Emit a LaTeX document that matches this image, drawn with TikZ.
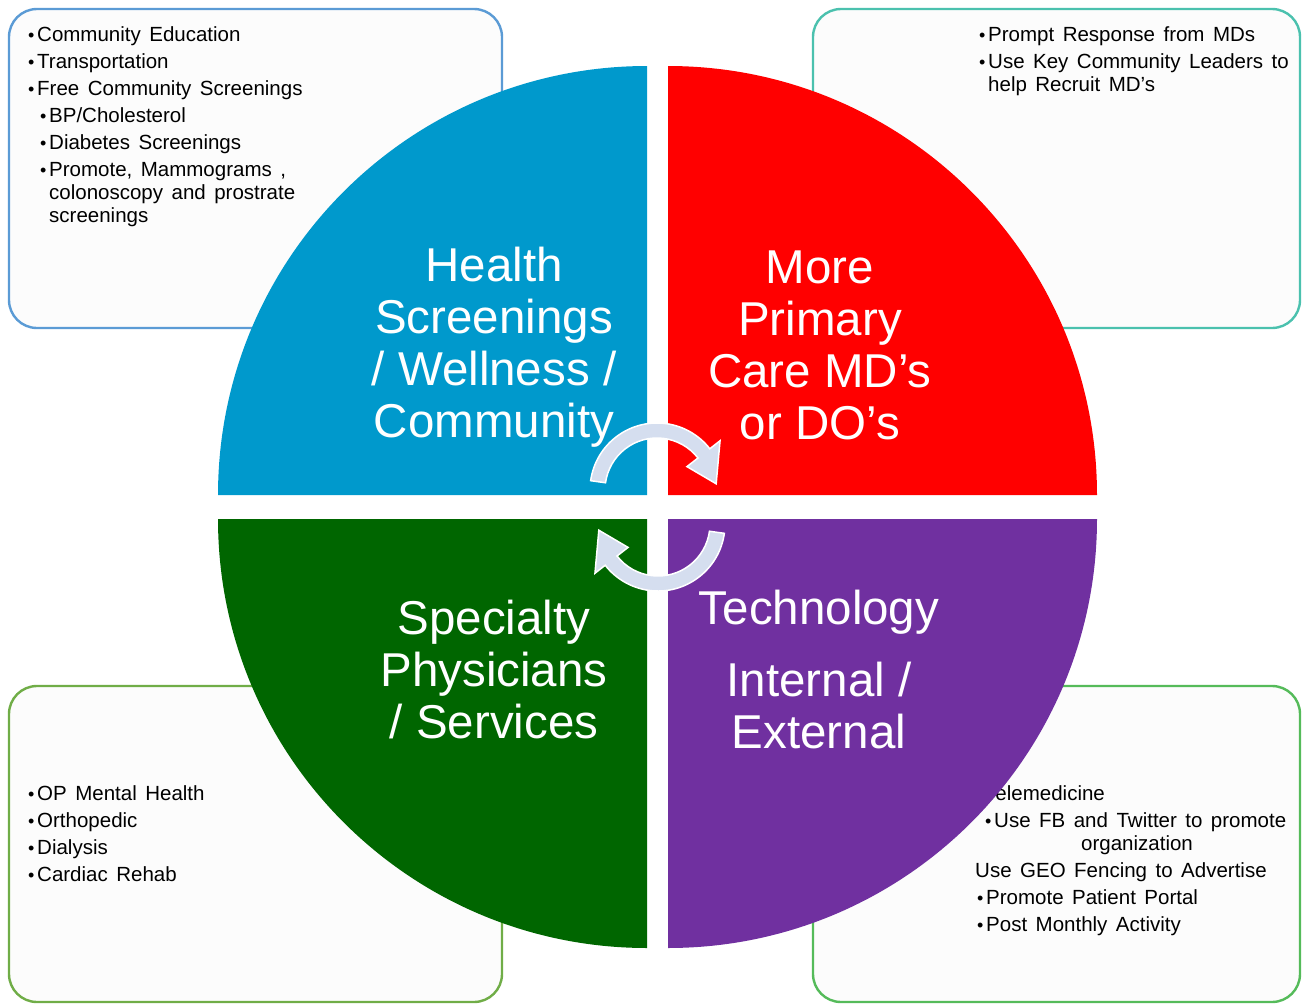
\documentclass[tikz,border=0pt]{standalone}
\usepackage{fontspec}
\setmainfont{Liberation Sans}
\usepackage{xcolor}
\usetikzlibrary{calc,positioning}
\definecolor{quadblue}{HTML}{0099CC}
\definecolor{quadred}{HTML}{FF0000}
\definecolor{quadgreen}{HTML}{006600}
\definecolor{quadpurple}{HTML}{7030A0}
\definecolor{edgeblue}{HTML}{5B9BD5}
\definecolor{edgeteal}{HTML}{4BC1AE}
\definecolor{edgegreen}{HTML}{70AD47}
\definecolor{edgelime}{HTML}{55BB5A}
\definecolor{cyclefill}{HTML}{D5DEEF}
\newcommand{\bul}{\makebox[9pt][l]{\fontsize{18}{18}\selectfont•}}
\newcommand{\notefont}{\fontsize{20.5}{27}\selectfont\spaceskip=8.5pt\relax}
\tikzstyle{notebox} = [line width=2.4pt, fill=black!1, rounded corners=28pt]
\tikzstyle{notetext} = [anchor=north west, inner sep=0pt, align=left, font=\notefont]
\tikzstyle{quadtitle} = [text=white, align=center, inner sep=0pt,
    font=\fontsize{47.5}{52}\selectfont]
\tikzstyle{cyclearrow} = [fill=cyclefill, draw=white, line width=1.5pt]

\begin{document}
\begin{tikzpicture}[x=1pt,y=-1pt]
\useasboundingbox (0,0) rectangle (1302,1004);

% corner boxes
\draw[notebox, draw=edgeblue] (9,9) rectangle (502,328);
\draw[notebox, draw=edgeteal] (813,9) rectangle (1300,328);
\draw[notebox, draw=edgegreen] (9,686) rectangle (502,1002);
\draw[notebox, draw=edgelime] (813,686) rectangle (1300,1002);

\node[notetext] (screennotes) at (28,26) {%
  \bul Community Education\\
  \bul Transportation\\
  \bul Free Community Screenings\\
  \hspace*{12pt}\bul BP/Cholesterol\\
  \hspace*{12pt}\bul Diabetes Screenings\\
  \hspace*{12pt}\bul Promote, Mammograms ,\\[-4pt]
  \hspace*{21pt}colonoscopy and prostrate\\[-4pt]
  \hspace*{21pt}screenings};
\node[notetext] (mdnotes) at (979,26) {%
  \bul Prompt Response from MDs\\
  \bul Use Key Community Leaders to\\[-4pt]
  \hspace*{9pt}help Recruit MD’s};
\node[notetext] (specnotes) at (28,785) {%
  \bul OP Mental Health\\
  \bul Orthopedic\\
  \bul Dialysis\\
  \bul Cardiac Rehab};
\node[notetext] (technotes) at (975,785) {%
  \hspace*{1pt}\bul Telemedicine\\
  \hspace*{10pt}\bul Use FB and Twitter to promote\\[-4pt]
  \hspace*{106pt}organization\\
  Use GEO Fencing to Advertise\\
  \hspace*{2pt}\bul Promote Patient Portal\\
  \hspace*{2pt}\bul Post Monthly Activity};

% quarter discs
\fill[quadblue] (647,495) -- ++(180:429) arc[start angle=180, end angle=270, radius=429] -- cycle;
\fill[quadred] (668,495) -- ++(270:429) arc[start angle=270, end angle=360, radius=429] -- cycle;
\fill[quadgreen] (647,519) -- ++(180:429) arc[start angle=180, end angle=90, radius=429] -- cycle;
\fill[quadpurple] (668,519) -- ++(0:429) arc[start angle=0, end angle=90, radius=429] -- cycle;

\node[quadtitle] (wellness) at (494,347) {Health\\Screenings\\/ Wellness /\\Community};
\node[quadtitle] (primary) at (820,345) {More\\Primary\\Care MD’s\\or DO’s};
\node[quadtitle] (specialty) at (494,670) {Specialty\\Physicians\\/ Services};
\node[quadtitle] (technology) at (819,670) {Technology\\[20pt]Internal /\\External};

% cycle arrows
\foreach \turn in {0,180}{
  \begin{scope}[rotate around={\turn:(657.5,507)}, shift={(657,490)}]
    \filldraw[cyclearrow] (188:52) -- (188:67) arc[start angle=188, end angle=322, radius=67]
      -- (322:80) -- (354:59.5) -- (322:38) -- (322:52)
      arc[start angle=322, end angle=188, radius=52] -- cycle;
  \end{scope}
}
\end{tikzpicture}
\end{document}
